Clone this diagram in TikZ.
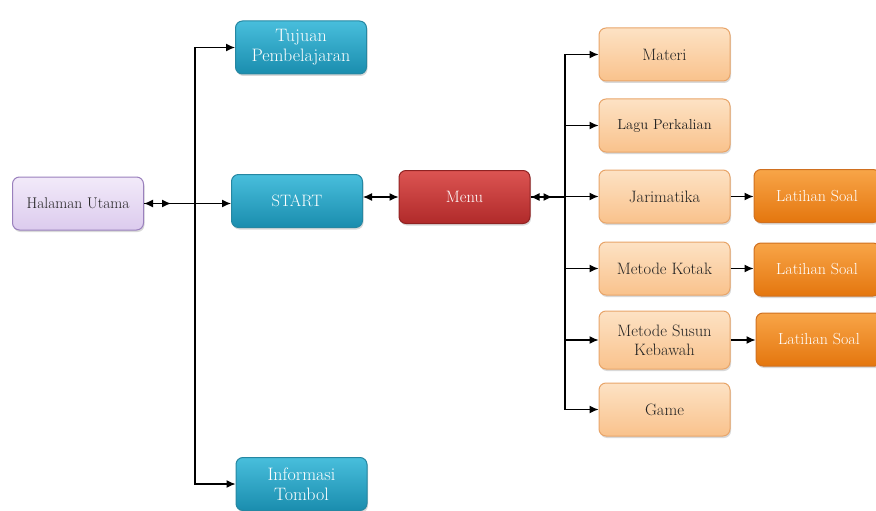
\documentclass[tikz,border=0pt]{standalone}
\usepackage{fontspec}
\usepackage{tikz}
\usetikzlibrary{arrows.meta, shadows, calc}
\definecolor{teal-top}{HTML}{48BEDC}
\definecolor{teal-bot}{HTML}{1A8DAE}
\definecolor{teal-line}{HTML}{2587A2}
\definecolor{lila-top}{HTML}{F2EAF9}
\definecolor{lila-bot}{HTML}{DCCBEE}
\definecolor{lila-line}{HTML}{9A80BD}
\definecolor{red-top}{HTML}{DC5452}
\definecolor{red-bot}{HTML}{B02A2A}
\definecolor{red-line}{HTML}{902222}
\definecolor{peach-top}{HTML}{FDE2C4}
\definecolor{peach-bot}{HTML}{F9C28C}
\definecolor{peach-line}{HTML}{E8A56A}
\definecolor{orange-top}{HTML}{F8A548}
\definecolor{orange-bot}{HTML}{E4760E}
\definecolor{orange-line}{HTML}{D07020}
\definecolor{ink}{HTML}{222222}

\tikzset{
  box/.style={rounded corners=7pt, minimum width=131pt, minimum height=53pt,
    inner sep=2pt, align=center, line width=1pt, font=\fontsize{16.5}{19}\selectfont,
    drop shadow={opacity=0.3, shadow xshift=1pt, shadow yshift=-2pt}},
  bluebox/.style={box, draw=teal-line, top color=teal-top, bottom color=teal-bot, text=white},
  lilabox/.style={box, draw=lila-line, top color=lila-top, bottom color=lila-bot, text=ink, font=\fontsize{15.5}{18}\selectfont},
  redbox/.style={box, draw=red-line, top color=red-top, bottom color=red-bot, text=white},
  peachbox/.style={box, draw=peach-line, top color=peach-top, bottom color=peach-bot, text=ink},
  soalbox/.style={box, draw=orange-line, top color=orange-top, bottom color=orange-bot, text=white, minimum width=126pt, font=\fontsize{16}{19}\selectfont},
  link/.style={draw=black, line width=1.2pt, -{Latex[length=9pt, width=8pt]}},
  twin/.style={draw=black, line width=1.2pt, {Latex[length=9pt, width=8pt]}-{Latex[length=9pt, width=8pt]}}
}

\begin{document}
\begin{tikzpicture}[x=1pt, y=-1pt]
  \useasboundingbox (0,0) rectangle (876,511);

  % left part
  \node[lilabox] (halaman) at (78,203.5) {Halaman Utama};
  \node[bluebox, font=\fontsize{18}{20}\selectfont] (tujuan) at (301,47.5) {Tujuan\\Pembelajaran};
  \node[bluebox] (start) at (297,201) {START};
  \node[bluebox, font=\fontsize{18}{20}\selectfont] (info) at (301.5,484) {Informasi\\Tombol};
  \node[redbox] (menu) at (464.5,197) {Menu};

  % menu items
  \node[peachbox] (materi) at (664.5,54.5) {Materi};
  \node[peachbox, font=\fontsize{14.5}{17}\selectfont] (lagu) at (664.5,125.5) {Lagu Perkalian};
  \node[peachbox] (jari) at (664.5,196.5) {Jarimatika};
  \node[peachbox] (kotak) at (664.5,268.5) {Metode Kotak};
  \node[peachbox, minimum height=58pt] (susun) at (664.5,340) {Metode Susun\\Kebawah};
  \node[peachbox] (game) at (664.5,409.5) {Game};

  % latihan
  \node[soalbox] (soal1) at (817,196) {Latihan Soal};
  \node[soalbox] (soal2) at (817,269.5) {Latihan Soal};
  \node[soalbox] (soal3) at (819,339.5) {Latihan Soal};

  % connectors
  \coordinate (lt) at (195,203.5);
  \draw[link] (halaman.east) -- (halaman.east -| start.west);
  \draw[twin] (halaman.east) -- ++(27,0);
  \draw[link] (lt) |- (tujuan.west);
  \draw[link] (lt) |- (info.west);

  \draw[twin] (start.east |- menu.west) -- (menu.west);

  \coordinate (rt) at (565,197);
  \draw[line width=1.2pt] (menu.east) -- (rt);
  \draw[twin] (menu.east) -- ++(22,0);
  \foreach \item in {materi, lagu, jari, kotak, susun, game}
    \draw[link] (rt) |- (\item.west);

  \draw[link] (jari.east) -- (jari.east -| soal1.west);
  \draw[link] (kotak.east) -- (kotak.east -| soal2.west);
  \draw[link] (susun.east) -- (susun.east -| soal3.west);
\end{tikzpicture}
\end{document}
